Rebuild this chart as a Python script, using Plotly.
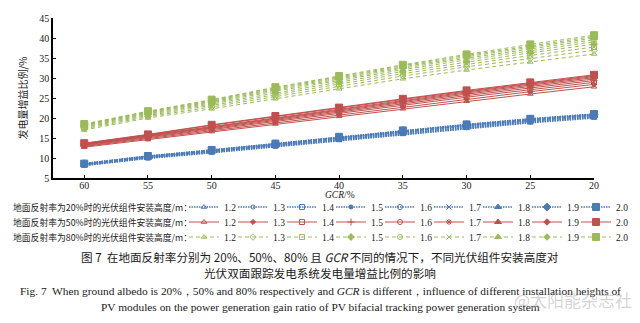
import plotly.graph_objects as go

# GCR (%) on the x axis, shown from 60 down to 20
gcr = [60, 55, 50, 45, 40, 35, 30, 25, 20]
heights = ["1.2", "1.3", "1.4", "1.5", "1.6", "1.7", "1.8", "1.9", "2.0"]

# Generation gain ratio (%) for ground albedo 20 %, one list per module height
gain_20 = {
    "1.2": [8.10, 9.90, 11.30, 12.80, 14.40, 15.90, 17.40, 18.80, 20.00],
    "1.3": [8.20, 10.02, 11.44, 12.96, 14.58, 16.10, 17.60, 19.00, 20.20],
    "1.4": [8.29, 10.12, 11.56, 13.10, 14.73, 16.27, 17.77, 19.17, 20.37],
    "1.5": [8.36, 10.21, 11.66, 13.22, 14.87, 16.42, 17.92, 19.32, 20.52],
    "1.6": [8.43, 10.29, 11.76, 13.32, 14.99, 16.55, 18.05, 19.45, 20.65],
    "1.7": [8.48, 10.36, 11.83, 13.41, 15.08, 16.66, 18.16, 19.56, 20.76],
    "1.8": [8.53, 10.41, 11.90, 13.48, 15.17, 16.75, 18.25, 19.65, 20.85],
    "1.9": [8.57, 10.46, 11.95, 13.54, 15.24, 16.83, 18.33, 19.73, 20.93],
    "2.0": [8.60, 10.50, 12.00, 13.60, 15.30, 16.90, 18.40, 19.80, 21.00],
}
# ground albedo 50 %
gain_50 = {
    "1.2": [12.70, 14.60, 16.60, 18.50, 20.40, 22.30, 24.20, 26.00, 27.80],
    "1.3": [12.90, 14.86, 16.94, 18.90, 20.84, 22.80, 24.74, 26.58, 28.40],
    "1.4": [13.07, 15.08, 17.23, 19.24, 21.21, 23.23, 25.20, 27.07, 28.91],
    "1.5": [13.22, 15.28, 17.48, 19.54, 21.54, 23.60, 25.60, 27.51, 29.36],
    "1.6": [13.35, 15.45, 17.71, 19.80, 21.83, 23.93, 25.96, 27.89, 29.75],
    "1.7": [13.46, 15.59, 17.89, 20.02, 22.07, 24.20, 26.25, 28.20, 30.08],
    "1.8": [13.55, 15.71, 18.05, 20.20, 22.27, 24.43, 26.50, 28.47, 30.35],
    "1.9": [13.63, 15.81, 18.18, 20.36, 22.45, 24.63, 26.71, 28.70, 30.59],
    "2.0": [13.70, 15.90, 18.30, 20.50, 22.60, 24.80, 26.90, 28.90, 30.80],
}
# ground albedo 80 %
gain_80 = {
    "1.2": [17.00, 20.00, 22.30, 24.80, 27.30, 29.80, 32.00, 34.00, 36.00],
    "1.3": [17.30, 20.34, 22.76, 25.38, 27.94, 30.50, 32.78, 34.88, 36.94],
    "1.4": [17.56, 20.63, 23.15, 25.87, 28.48, 31.10, 33.44, 35.63, 37.74],
    "1.5": [17.78, 20.88, 23.50, 26.31, 28.96, 31.62, 34.03, 36.29, 38.44],
    "1.6": [17.98, 21.11, 23.80, 26.69, 29.38, 32.08, 34.54, 36.86, 39.06],
    "1.7": [18.14, 21.29, 24.05, 27.00, 29.73, 32.46, 34.96, 37.34, 39.57],
    "1.8": [18.28, 21.45, 24.26, 27.27, 30.02, 32.78, 35.32, 37.74, 40.00],
    "1.9": [18.40, 21.58, 24.44, 27.50, 30.28, 33.06, 35.63, 38.09, 40.37],
    "2.0": [18.50, 21.70, 24.60, 27.70, 30.50, 33.30, 35.90, 38.40, 40.70],
}

row_labels = [
    "地面反射率为20%时的光伏组件安装高度/m：",
    "地面反射率为50%时的光伏组件安装高度/m：",
    "地面反射率为80%时的光伏组件安装高度/m：",
]

W, H = 640, 323
ML, MR, MT, MB = 53, 46, 18, 145
PW, PH = W - ML - MR, H - MT - MB


def px_x(x):
    return (x - ML) / PW


def px_y(y):
    return (H - MB - y) / PH


groups = [
    dict(data=gain_20, color="#4a7ab8", dash="1.5px,1px", width=1.6, legend="legend",
         symbols=["triangle-up-open", "circle-open", "square-open", "circle",
                  "circle-open", "x-thin-open", "triangle-up", "diamond", "square"],
         sizes=[5, 4, 5, 4, 5, 5, 6, 6, 7]),
    dict(data=gain_50, color="#c0504d", dash="solid", width=1.0, legend="legend2",
         symbols=["triangle-up-open", "diamond", "square-open", "cross-thin-open",
                  "circle-open", "asterisk-open", "triangle-up", "diamond", "square"],
         sizes=[5, 4, 5, 5, 5, 5, 6, 5, 7]),
    dict(data=gain_80, color="#9bbb59", dash="4px,3px", width=1.0, legend="legend3",
         symbols=["triangle-up-open", "diamond-open", "square-open", "cross",
                  "circle-open", "x-thin-open", "triangle-up", "diamond", "square"],
         sizes=[5, 5, 5, 5, 5, 5, 6, 5, 7]),
]

fig = go.Figure()
for g in groups:
    for h, sym, sz in zip(heights, g["symbols"], g["sizes"]):
        fig.add_trace(go.Scatter(
            x=gcr, y=g["data"][h], name=h, mode="lines+markers",
            legend=g["legend"], cliponaxis=False,
            line=dict(color=g["color"], dash=g["dash"], width=g["width"]),
            marker=dict(symbol=sym, size=sz, color=g["color"],
                        line=dict(color=g["color"], width=1)),
        ))
    # blank trailing slot so the last legend label has room and is not clipped
    fig.add_trace(go.Scatter(
        x=[None], y=[None], name=" ", mode="lines", legend=g["legend"],
        line=dict(color="rgba(0,0,0,0)", width=0), hoverinfo="skip",
    ))

serif = "Liberation Serif"
cjk = "Noto Sans CJK SC"

legend_common = dict(
    orientation="h", xanchor="left", yanchor="middle",
    x=px_x(184), entrywidth=4, entrywidthmode="pixels",
    font=dict(family=serif, size=9.5, color="#222"),
    bgcolor="rgba(0,0,0,0)", itemwidth=30, tracegroupgap=0,
)
row_y = [207, 222, 237]

annotations = []
for lab, yy in zip(row_labels, row_y):
    annotations.append(dict(
        text=lab, x=px_x(11), y=px_y(yy), xref="paper", yref="paper",
        xanchor="left", yanchor="middle", showarrow=False,
        font=dict(family=cjk, size=8.8, color="#222"),
    ))

annotations.append(dict(
    text="<i>GCR</i>/%", x=px_x(340), y=px_y(195), xref="paper", yref="paper",
    showarrow=False, xanchor="center", yanchor="middle",
    font=dict(family=serif, size=9.5, color="#222"),
))

# figure caption
caption = [
    ("图 7  在地面反射率分别为 20%、50%、80% 且 <i>GCR</i> 不同的情况下，不同光伏组件安装高度对", 257, cjk, 11.6),
    ("光伏双面跟踪发电系统发电量增益比例的影响", 273, cjk, 11.6),
    ("Fig. 7  When ground albedo is 20%，50% and 80% respectively and <i>GCR</i> is different，influence of different installation heights of", 291, serif, 11.4),
    ("PV modules on the power generation gain ratio of PV bifacial tracking power generation system", 307, serif, 11.4),
]
for txt, yy, fam, fs in caption:
    annotations.append(dict(
        text=txt, x=px_x(320), y=px_y(yy), xref="paper", yref="paper",
        showarrow=False, xanchor="center", yanchor="middle",
        font=dict(family=fam, size=fs, color="#1a1a1a"),
    ))

annotations.append(dict(
    text="@太阳能杂志社", x=px_x(634), y=px_y(299), xref="paper", yref="paper",
    showarrow=False, xanchor="right", yanchor="middle",
    font=dict(family=cjk, size=17, color="rgba(170,170,170,0.5)"),
))

fig.update_layout(
    width=W, height=H,
    margin=dict(l=ML, r=MR, t=MT, b=MB, autoexpand=False),
    paper_bgcolor="white", plot_bgcolor="white",
    showlegend=True,
    legend=dict(legend_common, y=px_y(row_y[0])),
    legend2=dict(legend_common, y=px_y(row_y[1])),
    legend3=dict(legend_common, y=px_y(row_y[2])),
    annotations=annotations,
    xaxis=dict(
        range=[62.45, 20], tickvals=gcr, ticktext=[str(v) for v in gcr],
        showgrid=False, zeroline=False, showline=True, linecolor="black",
        linewidth=1.5, ticks="inside", ticklen=3, tickcolor="black",
        ticklabelstandoff=-3,
        tickfont=dict(family=serif, size=10, color="#222"),
    ),
    yaxis=dict(
        range=[5, 45], dtick=5, showgrid=False, zeroline=False,
        showline=True, linecolor="black", linewidth=1.5,
        ticks="inside", ticklen=3, tickcolor="black",
        tickfont=dict(family=serif, size=10, color="#222"),
        title=dict(text="发电量增益比例/%", standoff=10,
                   font=dict(family=cjk, size=10, color="#222")),
    ),
)

fig.write_html("out.html")
